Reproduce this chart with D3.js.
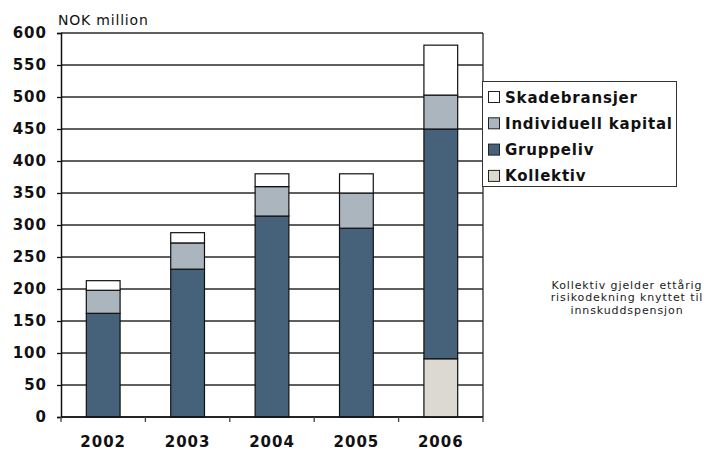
<!DOCTYPE html>
<html><head><meta charset="utf-8">
<script src="https://cdn.jsdelivr.net/npm/d3@7"></script>
<style>body{margin:0;background:#fff;}svg{display:block;}</style>
</head><body>
<svg id="c" width="707" height="452"></svg>
<script>
const years = ["2002","2003","2004","2005","2006"];
const seriesNames = ["Kollektiv","Gruppeliv","Individuell kapital","Skadebransjer"];
const kollektiv = [0,0,0,0,91];
const gruppeliv = [162,231,314,295,359];
const individuell = [36,41,46,55,53];
const skadebransjer = [15,16,20,30,78];
const yTicks = [0,50,100,150,200,250,300,350,400,450,500,550,600];
const colors = ["#DCD9D2","#46627A","#AAB5BE","#FFFFFF"];
const legendOrder = ["Skadebransjer","Individuell kapital","Gruppeliv","Kollektiv"];
const unitLabel = "NOK million";
const noteLines = ["Kollektiv gjelder ettårig","risikodekning knyttet til","innskuddspensjon"];

const svg = d3.select("#c");
const L = 61, R = 483, T = 33, B = 417;
const font = "'DejaVu Sans', Verdana, sans-serif";

const x = d3.scaleBand().domain(years).range([L, R]).paddingInner(0.6).paddingOuter(0.3);
const y = d3.scaleLinear().domain([0, 600]).range([B, T]);

const rows = years.map((yr, i) => ({year: yr,
  "Kollektiv": kollektiv[i], "Gruppeliv": gruppeliv[i],
  "Individuell kapital": individuell[i], "Skadebransjer": skadebransjer[i]}));
const stack = d3.stack().keys(seriesNames)(rows);
const color = d3.scaleOrdinal().domain(seriesNames).range(colors);

// gridlines
svg.append("g").selectAll("line").data(yTicks).join("line")
  .attr("x1", L).attr("x2", R).attr("y1", d => y(d)).attr("y2", d => y(d))
  .attr("stroke", "#2a2a2a").attr("stroke-width", 1.3);
// right frame
svg.append("line").attr("x1", R).attr("x2", R).attr("y1", T).attr("y2", B)
  .attr("stroke", "#2a2a2a").attr("stroke-width", 1.3);

// bars
svg.append("g").selectAll("g").data(stack).join("g")
  .attr("fill", d => color(d.key))
  .selectAll("rect").data(d => d.filter(p => p[1] - p[0] > 0)).join("rect")
  .attr("x", d => x(d.data.year)).attr("width", x.bandwidth())
  .attr("y", d => y(d[1])).attr("height", d => y(d[0]) - y(d[1]))
  .attr("stroke", "#111").attr("stroke-width", 1.2);

// y axis
const yAxis = d3.axisLeft(y).tickValues(yTicks).tickSize(4).tickPadding(10);
const gy = svg.append("g").attr("transform", `translate(${L},0)`).call(yAxis);
gy.select(".domain").attr("stroke", "#111").attr("stroke-width", 1.5);
gy.selectAll(".tick line").attr("stroke", "#111").attr("stroke-width", 1.3);
gy.selectAll("text").attr("font-family", font).attr("font-weight", "bold")
  .attr("font-size", 15).attr("letter-spacing", 1).attr("fill", "#111");

// x axis
const xBounds = d3.range(years.length + 1).map(i => L + i * (R - L) / years.length);
svg.append("line").attr("x1", L).attr("x2", R).attr("y1", B).attr("y2", B)
  .attr("stroke", "#111").attr("stroke-width", 1.5);
svg.append("g").selectAll("line").data(xBounds).join("line")
  .attr("x1", d => d).attr("x2", d => d).attr("y1", B).attr("y2", B + 5)
  .attr("stroke", "#444").attr("stroke-width", 1.3);
svg.append("g").selectAll("text").data(years).join("text")
  .attr("x", d => x(d) + x.bandwidth() / 2).attr("y", 447)
  .attr("text-anchor", "middle").attr("font-family", font).attr("font-weight", "bold")
  .attr("font-size", 15).attr("letter-spacing", 1).attr("fill", "#111").text(d => d);

// unit label
svg.append("text").attr("x", 58).attr("y", 25).attr("font-family", font)
  .attr("font-size", 14).attr("letter-spacing", 0.8).attr("fill", "#111").text(unitLabel);

// legend
const lg = svg.append("g");
lg.append("rect").attr("x", 482.5).attr("y", 81.5).attr("width", 194).attr("height", 105)
  .attr("fill", "#fff").attr("stroke", "#333").attr("stroke-width", 1);
const items = lg.selectAll("g.it").data(legendOrder).join("g").attr("class", "it")
  .attr("transform", (d, i) => `translate(0,${97 + i * 26.3})`);
items.append("rect").attr("x", 488.5).attr("y", -5.5).attr("width", 11).attr("height", 11)
  .attr("fill", d => color(d)).attr("stroke", "#222").attr("stroke-width", 1);
items.append("text").attr("x", 505).attr("y", 5.5).attr("font-family", font)
  .attr("font-weight", "bold").attr("font-size", 15).attr("letter-spacing", 0.8)
  .attr("fill", "#111").text(d => d);

// note
svg.append("g").selectAll("text").data(noteLines).join("text")
  .attr("x", 627).attr("y", (d, i) => 288.5 + i * 12.5).attr("text-anchor", "middle")
  .attr("font-family", font).attr("font-size", 11).attr("letter-spacing", 0.9)
  .attr("fill", "#222").text(d => d);
</script>
</body></html>
